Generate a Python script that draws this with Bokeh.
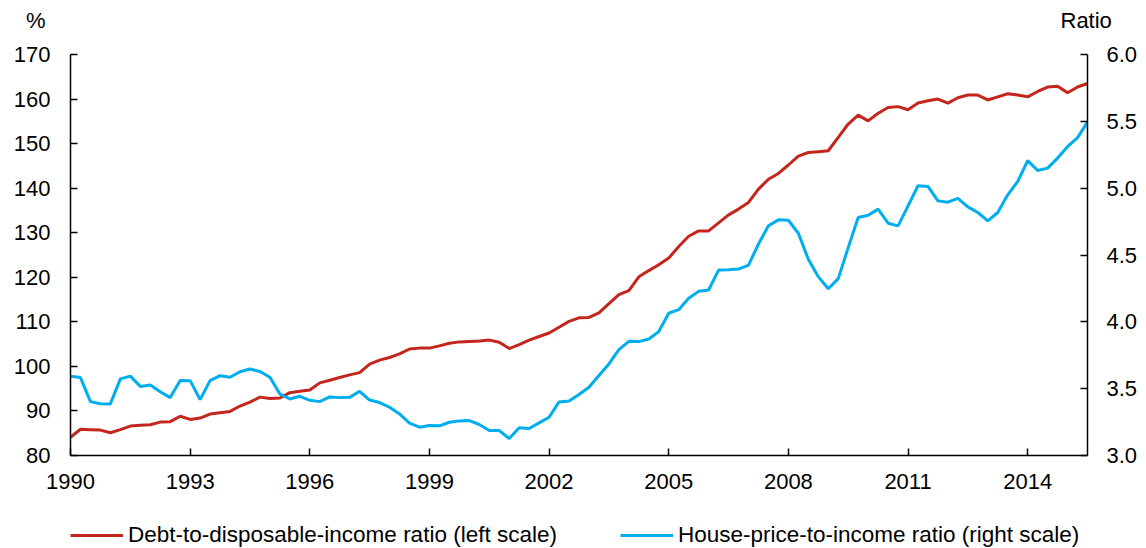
from bokeh.plotting import figure
from bokeh.layouts import column
from bokeh.models import (Range1d, LinearAxis, FixedTicker, NumeralTickFormatter,
                          Legend, LegendItem, ColumnDataSource)
from bokeh.embed import file_html
from bokeh.resources import INLINE

# Quarterly data, 1990Q1 .. 2015Q3
start_year = 1990
debt_to_income = [
    84.1, 85.9, 85.8, 85.7, 85.1, 85.8, 86.6, 86.8, 86.9, 87.5,
    87.6, 88.8, 88.1, 88.4, 89.3, 89.6, 89.9, 91.1, 92.0, 93.1,
    92.8, 92.9, 94.1, 94.4, 94.7, 96.3, 96.9, 97.5, 98.1, 98.6,
    100.5, 101.4, 102.0, 102.8, 103.9, 104.1, 104.1, 104.6, 105.2, 105.5,
    105.6, 105.7, 105.9, 105.4, 104.0, 104.9, 105.9, 106.7, 107.5, 108.8,
    110.1, 110.9, 111.0, 112.0, 114.1, 116.1, 117.0, 120.1, 121.5, 122.8,
    124.3, 126.9, 129.2, 130.4, 130.4, 132.2, 134.0, 135.3, 136.8, 139.8,
    142.0, 143.3, 145.2, 147.2, 148.0, 148.2, 148.4, 151.4, 154.4, 156.4,
    155.1, 156.8, 158.1, 158.3, 157.6, 159.1, 159.6, 160.0, 159.1, 160.3,
    160.9, 160.9, 159.8, 160.5, 161.2, 160.9, 160.5, 161.7, 162.7, 162.9,
    161.4, 162.7, 163.5,
]
house_price_to_income = [
    3.593, 3.583, 3.403, 3.387, 3.386, 3.573, 3.594, 3.517, 3.527, 3.477,
    3.433, 3.562, 3.560, 3.418, 3.560, 3.597, 3.585, 3.627, 3.647, 3.629,
    3.585, 3.460, 3.423, 3.443, 3.413, 3.403, 3.438, 3.433, 3.435, 3.480,
    3.415, 3.396, 3.361, 3.311, 3.242, 3.212, 3.224, 3.222, 3.249, 3.259,
    3.261, 3.232, 3.187, 3.187, 3.127, 3.207, 3.202, 3.244, 3.286, 3.401,
    3.408, 3.456, 3.511, 3.598, 3.685, 3.792, 3.854, 3.852, 3.872, 3.927,
    4.064, 4.091, 4.176, 4.228, 4.238, 4.387, 4.390, 4.395, 4.425, 4.582,
    4.719, 4.763, 4.760, 4.663, 4.468, 4.338, 4.248, 4.323, 4.555, 4.780,
    4.798, 4.843, 4.738, 4.718, 4.868, 5.018, 5.013, 4.905, 4.895, 4.923,
    4.860, 4.818, 4.755, 4.818, 4.950, 5.050, 5.206, 5.132, 5.150, 5.225,
    5.310, 5.378, 5.494,
]
x_ticks = [1990, 1993, 1996, 1999, 2002, 2005, 2008, 2011, 2014]
left_ticks = [80, 90, 100, 110, 120, 130, 140, 150, 160, 170]
right_ticks = [3.0, 3.5, 4.0, 4.5, 5.0, 5.5, 6.0]
legend_labels = ["Debt-to-disposable-income ratio (left scale)",
                 "House-price-to-income ratio (right scale)"]
left_unit = "%"
right_unit = "Ratio"

quarters = [start_year + i / 4 for i in range(len(debt_to_income))]
src = ColumnDataSource(dict(x=quarters, debt=debt_to_income, house=house_price_to_income))

FONT = "Liberation Sans"
FS = "22px"
LEG_FS = "22.5px"
RED = "#C4261D"
BLUE = "#00AEEF"
W = 1146


def style(ax, standoff):
    ax.axis_line_color = "black"
    ax.axis_line_width = 1.5
    ax.major_tick_line_color = "black"
    ax.major_tick_line_width = 1.5
    ax.major_tick_in = 7
    ax.major_tick_out = 0
    ax.minor_tick_line_color = None
    ax.major_label_text_font = FONT
    ax.major_label_text_font_size = FS
    ax.major_label_text_color = "black"
    ax.major_label_standoff = standoff


def blank(f):
    f.outline_line_color = None
    f.xgrid.visible = False
    f.ygrid.visible = False
    f.border_fill_color = "white"
    f.background_fill_color = "white"


# ---- header: unit labels above the two value axes ----
header = figure(width=W, height=40, output_backend="svg", toolbar_location=None,
                x_range=Range1d(0, 1), y_range=Range1d(0, 40),
                x_axis_type=None, min_border=0)
blank(header)
hl = header.yaxis[0]
hl.ticker = FixedTicker(ticks=[20])
hl.major_label_overrides = {20: left_unit}
style(hl, 25)
hl.axis_line_color = None
hl.major_tick_line_color = None
hr = LinearAxis(ticker=FixedTicker(ticks=[20]), major_label_overrides={20: right_unit})
style(hr, -27)
hr.axis_line_color = None
hr.major_tick_line_color = None
header.add_layout(hr, "right")

# ---- main chart ----
p = figure(width=W, height=461, output_backend="svg", toolbar_location=None,
           x_range=Range1d(1990, 2015.5), y_range=Range1d(80, 170),
           min_border_left=70, min_border_right=59, min_border_top=14,
           min_border_bottom=46)
p.extra_y_ranges = {"right": Range1d(3.0, 6.0)}
blank(p)

p.line("x", "debt", source=src, color=RED, line_width=3)
p.line("x", "house", source=src, color=BLUE, line_width=3, y_range_name="right")

xa = p.xaxis[0]
xa.ticker = FixedTicker(ticks=x_ticks)
xa.formatter = NumeralTickFormatter(format="0")
style(xa, 18)

ya = p.yaxis[0]
ya.ticker = FixedTicker(ticks=left_ticks)
style(ya, 20)

ra = LinearAxis(y_range_name="right", ticker=FixedTicker(ticks=right_ticks),
                formatter=NumeralTickFormatter(format="0.0"))
style(ra, 19)
p.add_layout(ra, "right")

# ---- footer: legend (its sample lines reuse the series, kept outside the view) ----
footer = figure(width=W, height=47, output_backend="svg", toolbar_location=None,
                x_range=Range1d(0, 1), y_range=Range1d(0, 1),
                x_axis_type=None, y_axis_type=None, min_border=0)
blank(footer)
lr1 = footer.line("x", "debt", source=src, color=RED, line_width=3)
lr2 = footer.line("x", "house", source=src, color=BLUE, line_width=3)
legend = Legend(items=[LegendItem(label=legend_labels[0], renderers=[lr1]),
                       LegendItem(label=legend_labels[1], renderers=[lr2])],
                orientation="horizontal", location=(0, 0),
                border_line_color=None, background_fill_alpha=0,
                label_text_font=FONT, label_text_font_size=LEG_FS, label_text_color="black",
                glyph_width=53, glyph_height=20, label_standoff=5,
                spacing=63, padding=0, margin=0)
footer.add_layout(legend)

layout = column(header, p, footer, spacing=0)
open("out.html", "w").write(file_html(layout, INLINE))
